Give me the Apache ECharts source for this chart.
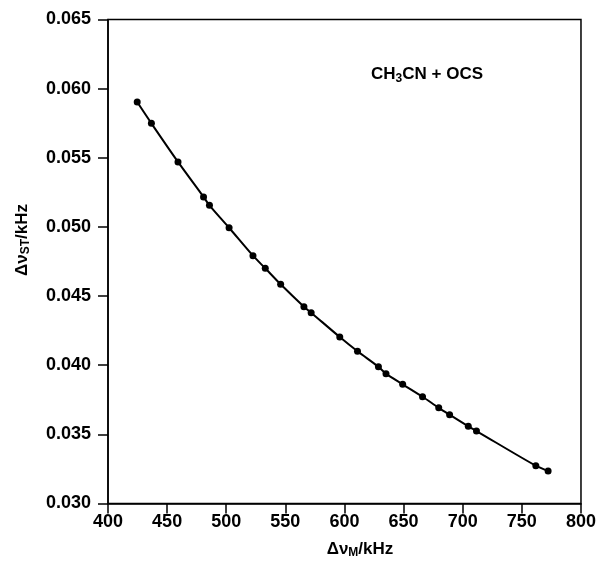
<!DOCTYPE html>
<html>
<head>
<meta charset="utf-8">
<script src="https://cdn.jsdelivr.net/npm/echarts@6/dist/echarts.min.js"></script>
<style>html,body{margin:0;padding:0;background:#fff;}#c{width:599px;height:564px;}</style>
</head>
<body>
<div id="c"></div>
<script>
var dvM = [424.7, 436.7, 459.2, 480.8, 485.8, 502.4, 522.6, 533.0, 546.0, 565.7, 571.8, 596.0, 611.0, 628.7, 635.1, 649.2, 666.0, 679.7, 688.9, 704.7, 711.6, 761.8, 772.2];
var dvST = [0.05903, 0.05749, 0.05470, 0.05217, 0.05156, 0.04994, 0.04792, 0.04701, 0.04585, 0.04423, 0.04380, 0.04204, 0.04101, 0.03989, 0.03939, 0.03862, 0.03772, 0.03692, 0.03642, 0.03558, 0.03524, 0.03273, 0.03235];
var xTicks = [400, 450, 500, 550, 600, 650, 700, 750, 800];
var yTicks = [0.030, 0.035, 0.040, 0.045, 0.050, 0.055, 0.060, 0.065];

var pts = dvM.map(function (x, i) { return [x, dvST[i]]; });
var font = 'Liberation Sans, Arial, sans-serif';
var chart = echarts.init(document.getElementById('c'), null, {renderer: 'canvas'});
var rich = {
  m: {fontSize: 17, fontWeight: 'bold', fontFamily: font, fill: '#000'},
  s: {fontSize: 12, fontWeight: 'bold', fontFamily: font, fill: '#000', padding: [8, 0, 0, 0]}
};
chart.setOption({
  animation: false,
  backgroundColor: '#fff',
  grid: {left: 108, right: 17, top: 19.5, bottom: 60.5, show: true, borderColor: '#000', borderWidth: 1.5, backgroundColor: 'transparent'},
  xAxis: {
    type: 'value', min: xTicks[0], max: xTicks[xTicks.length - 1], interval: 50,
    axisLine: {show: true, onZero: false, lineStyle: {color: '#000', width: 1.5}},
    axisTick: {show: true, inside: false, length: 10, lineStyle: {color: '#000', width: 1.5}},
    axisLabel: {color: '#000', fontSize: 18, fontWeight: 'bold', fontFamily: font, margin: 10},
    splitLine: {show: false}
  },
  yAxis: {
    type: 'value', min: yTicks[0], max: yTicks[yTicks.length - 1], interval: 0.005,
    axisLine: {show: true, onZero: false, lineStyle: {color: '#000', width: 1.5}},
    axisTick: {show: true, inside: false, length: 10, lineStyle: {color: '#000', width: 1.5}},
    axisLabel: {color: '#000', fontSize: 18, fontWeight: 'bold', fontFamily: font, margin: 17,
      formatter: function (v) { return v.toFixed(3); }},
    splitLine: {show: false}
  },
  series: [{
    type: 'line', data: pts, smooth: 0.3,
    symbol: 'circle', symbolSize: 7,
    lineStyle: {color: '#000', width: 2},
    itemStyle: {color: '#000'}
  }],
  graphic: [
    {type: 'text', left: 371, top: 66, style: {rich: rich, text: '{m|CH}{s|3}{m|CN + OCS}'}},
    {type: 'text', x: 360, y: 549, style: {rich: rich, text: '{m|\u0394\u03bd}{s|M}{m|/kHz}', align: 'center', verticalAlign: 'middle'}},
    {type: 'text', x: 22, y: 240, rotation: Math.PI / 2, style: {rich: rich, text: '{m|\u0394\u03bd}{s|ST}{m|/kHz}', align: 'center', verticalAlign: 'middle'}}
  ]
});
</script>
</body>
</html>
